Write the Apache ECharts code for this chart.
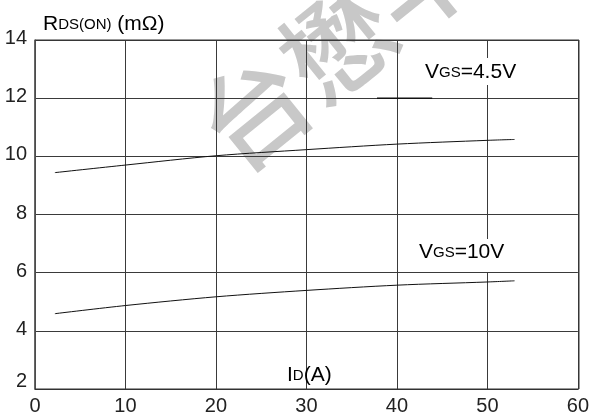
<!DOCTYPE html>
<html>
<head>
<meta charset="utf-8">
<style>
  html, body { margin: 0; padding: 0; background: #fff; }
  #chart { width: 592px; height: 418px; }
</style>
<script src="https://cdn.jsdelivr.net/npm/echarts@6/dist/echarts.min.js"></script>
</head>
<body>
<div id="chart"></div>
<script>
// Drain current ID (A) against on-resistance RDS(ON) (mΩ)
const vgs45 = [[2.2, 9.44], [10, 9.70], [20, 10.02], [30, 10.23], [40, 10.42], [50, 10.55], [53, 10.58]];
const vgs10 = [[2.2, 4.59], [10, 4.87], [20, 5.17], [30, 5.39], [40, 5.57], [50, 5.68], [53, 5.72]];
// short leader stroke beside the 4.5 V label
const leader45 = [[37.8, 12], [43.9, 12]];

const xTicks = [0, 10, 20, 30, 40, 50, 60];
const yTicks = [2, 4, 6, 8, 10, 12, 14];

const FONT = '"Liberation Sans", Arial, sans-serif';
const ink = '#222';
const big = { fontSize: 21, fontFamily: FONT, color: ink };
const small = { fontSize: 15, fontFamily: FONT, color: ink };

const chart = echarts.init(document.getElementById('chart'), null, { renderer: 'canvas' });

chart.setOption({
  backgroundColor: '#fff',
  animation: false,
  grid: { left: 35, right: 13, top: 40, bottom: 29, containLabel: false },
  xAxis: {
    type: 'value',
    min: xTicks[0], max: xTicks[xTicks.length - 1], interval: 10,
    axisLine: { show: true, lineStyle: { color: '#333', width: 1 } },
    axisTick: { show: false },
    axisLabel: { margin: 7, fontSize: 20, fontFamily: FONT, color: ink, showMaxLabel: true },
    splitLine: { show: true, lineStyle: { color: '#3a3a3a', width: 1 } }
  },
  yAxis: {
    type: 'value',
    min: yTicks[0], max: yTicks[yTicks.length - 1], interval: 2,
    axisLine: { show: true, lineStyle: { color: '#777', width: 1.5 } },
    axisTick: { show: false },
    axisLabel: {
      margin: 8, fontFamily: FONT, color: ink,
      formatter: v => (v === 2 ? '{lo|2}' : '{n|' + v + '}'),
      rich: {
        n: { fontSize: 20, fontFamily: FONT, color: ink, padding: [0, 0, 3, 0] },
        lo: { fontSize: 20, fontFamily: FONT, color: ink, padding: [0, 0, 16, 0] }
      }
    },
    splitLine: { show: true, lineStyle: { color: '#3a3a3a', width: 1 } }
  },
  graphic: [
    {
      type: 'text', z: -10, x: 338, y: 44, rotation: 0.68,
      style: {
        text: '台懋半', fill: '#c8c8c8',
        font: '500 108px "Noto Sans CJK SC"',
        align: 'center', verticalAlign: 'middle'
      }
    },
    {
      // frame top and right
      type: 'rect', z: 50, silent: true,
      shape: { x: 35, y: 40, width: 544, height: 349 },
      style: { fill: 'none', stroke: '#333', lineWidth: 1 }
    },
    {
      type: 'text', z: 100, x: 43, y: 35,
      style: {
        text: '{b|R}{s|DS(ON)}{b| (mΩ)}',
        verticalAlign: 'bottom',
        rich: { b: big, s: small }
      }
    },
    {
      type: 'text', z: 100, x: 287, y: 386,
      style: {
        text: '{b|I}{s|D}{b|(A)}',
        verticalAlign: 'bottom',
        rich: { b: big, s: small }
      }
    },
    {
      type: 'text', z: 100, x: 422, y: 58,
      style: {
        text: '{b|V}{s|GS}{b|=4.5V}',
        backgroundColor: '#fff',
        padding: [4, 4, 2, 3],
        rich: { b: big, s: small }
      }
    },
    {
      type: 'text', z: 100, x: 414, y: 239,
      style: {
        text: '{b|V}{s|GS}{b|=10V}',
        backgroundColor: '#fff',
        padding: [3, 12, 9, 5],
        rich: { b: big, s: small }
      }
    }
  ],
  series: [
    {
      name: 'VGS=4.5V', type: 'line', data: vgs45, smooth: 0.3,
      symbol: 'none', z: 20,
      lineStyle: { color: '#111', width: 1 }
    },
    {
      name: 'VGS=10V', type: 'line', data: vgs10, smooth: 0.3,
      symbol: 'none', z: 20,
      lineStyle: { color: '#111', width: 1 }
    },
    {
      name: 'leader', type: 'line', data: leader45,
      symbol: 'none', z: 20,
      lineStyle: { color: '#111', width: 1.5 }
    }
  ]
});
</script>
</body>
</html>
